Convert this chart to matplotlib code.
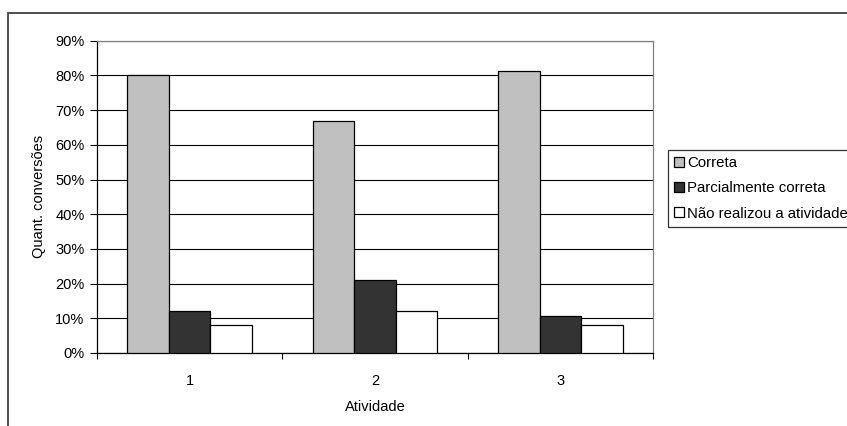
import matplotlib
matplotlib.use("Agg")
import matplotlib.pyplot as plt
from matplotlib.patches import Rectangle
from matplotlib.ticker import FuncFormatter, MultipleLocator
import numpy as np

plt.rcParams['font.family'] = ['Liberation Sans', 'DejaVu Sans']

categories = ['1', '2', '3']
series_names = ['Correta', 'Parcialmente correta', 'Não realizou a atividade']
correta = [80.0, 67.0, 81.3]
parcial = [12.0, 21.0, 10.7]
nao_realizou = [8.0, 12.0, 8.0]
series_values = [correta, parcial, nao_realizou]
series_colors = ['#c0c0c0', '#333333', '#ffffff']

W, H = 847, 426
fig = plt.figure(figsize=(W / 100, H / 100), dpi=100)

# chart area border (open on right and bottom edges of the canvas)
fig.add_artist(Rectangle((8 / W, -0.1), 1.2, 1 - 13 / H + 0.1,
                         transform=fig.transFigure, fill=False,
                         edgecolor='#404040', linewidth=1.3))

ax = fig.add_axes([97 / W, 1 - 353 / H, (653 - 97) / W, (353 - 40.7) / H])

n = len(categories)
bar_w = 0.224
x = np.arange(n)
for i, (vals, col, name) in enumerate(zip(series_values, series_colors, series_names)):
    ax.bar(x + (i - 1) * bar_w, vals, width=bar_w, color=col,
           edgecolor='black', linewidth=0.9, label=name, zorder=3)

ax.set_xlim(-0.5, n - 0.5)
ax.set_ylim(0, 90)
ax.yaxis.set_major_locator(MultipleLocator(10))
ax.yaxis.set_major_formatter(FuncFormatter(lambda v, p: f"{v:.0f}%"))
ax.grid(axis='y', color='black', linewidth=0.8, zorder=0)

ax.set_xticks(x)
ax.set_xticklabels(categories)
ax.set_xticks(np.arange(n + 1) - 0.5, minor=True)
ax.tick_params(axis='x', which='major', length=0, pad=15, labelsize=10.5)
ax.tick_params(axis='x', which='minor', length=4, width=0.8, direction='out')
ax.tick_params(axis='y', length=5, width=0.8, direction='out', labelsize=10.5, pad=4)

for side in ['left', 'bottom']:
    ax.spines[side].set_color('black')
    ax.spines[side].set_linewidth(0.9)
for side in ['top', 'right']:
    ax.spines[side].set_color('#808080')
    ax.spines[side].set_linewidth(0.9)

ax.set_xlabel('Atividade', fontsize=10.5, labelpad=9)
ax.set_ylabel('Quant. conversões', fontsize=10.5, labelpad=7)

leg = fig.legend(loc='upper left', bbox_to_anchor=(668 / W, 1 - 150 / H),
                 fontsize=10.8, frameon=True, fancybox=False, edgecolor='black',
                 handlelength=0.65, handleheight=0.65, handletextpad=0.2,
                 borderpad=0.4, labelspacing=0.75, borderaxespad=0)
leg.get_frame().set_linewidth(0.9)

fig.savefig('out.png', dpi=100)
